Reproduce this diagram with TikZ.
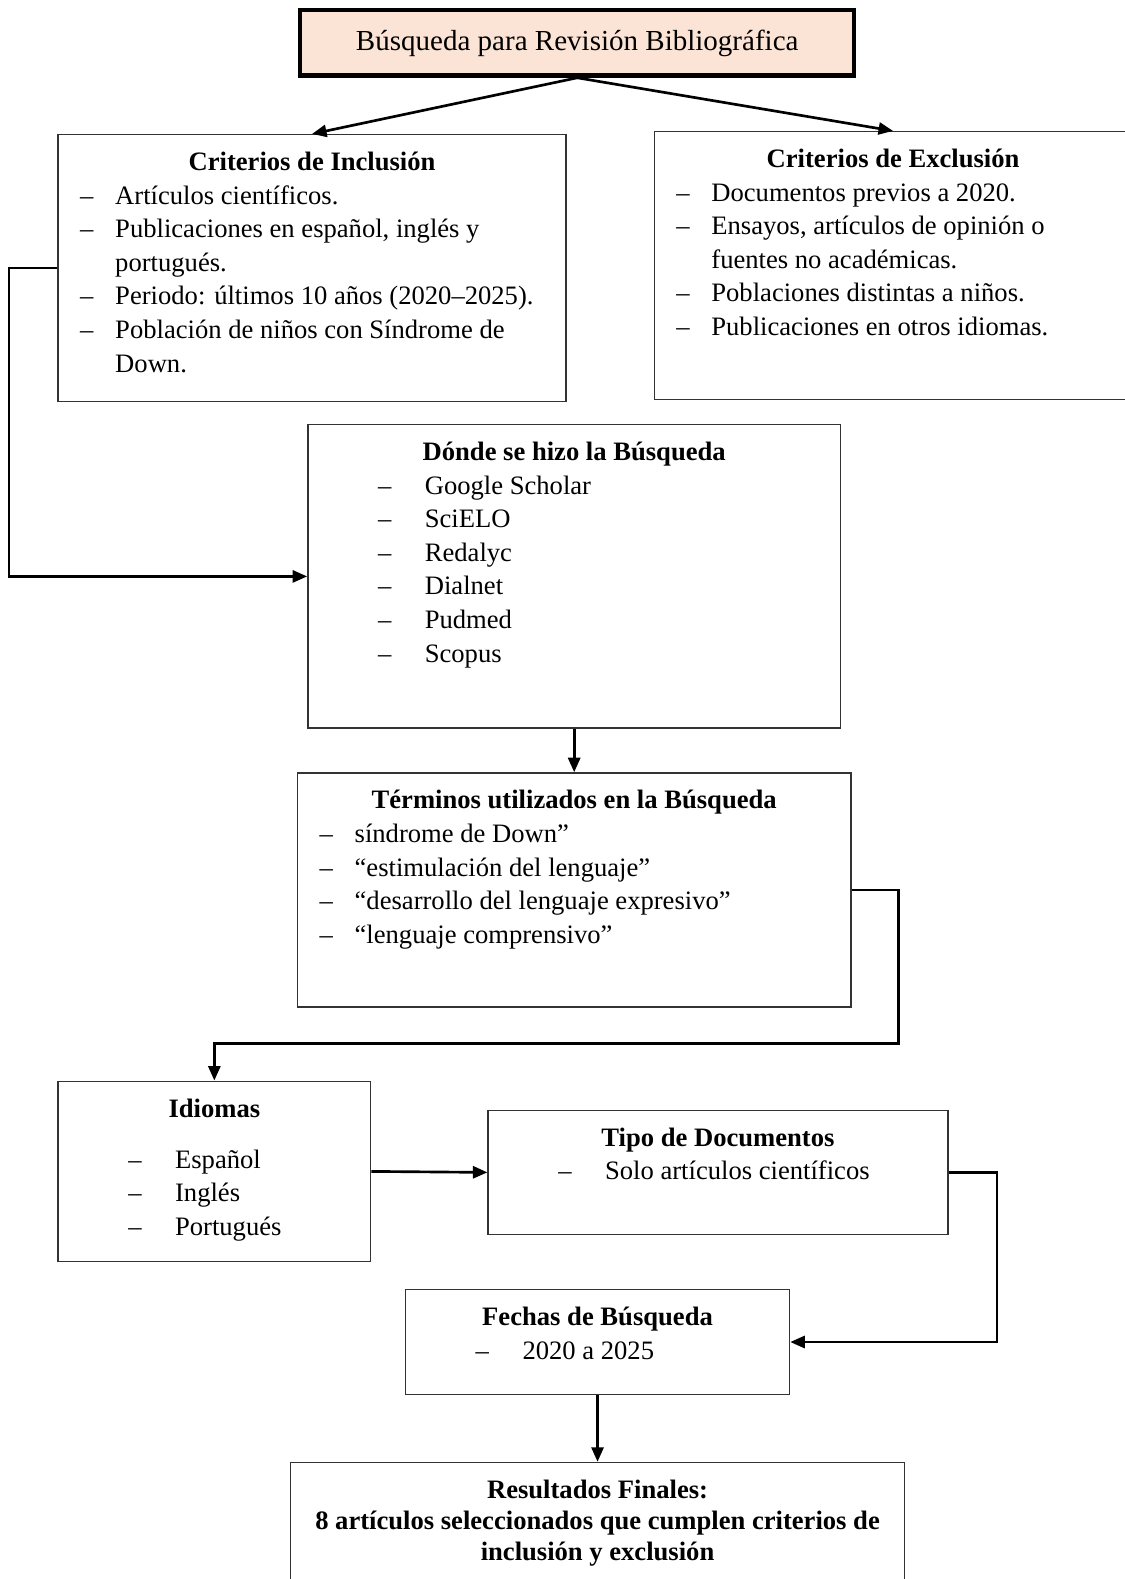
\documentclass[tikz,border=0pt]{standalone}
\usepackage{fontspec}
\setmainfont{Liberation Serif}
\usetikzlibrary{arrows.meta, positioning}
\definecolor{peach}{RGB}{251,228,213}
\newcommand{\boxbody}[3]{\parbox[t][#2][t]{#1}{\setlength{\parskip}{0pt}\raggedright #3}}
\newcommand{\boxhead}[1]{{\centering\bfseries\rule{0pt}{0.52cm}#1\par}}
\newcommand{\itema}[1]{\par\hangindent=0.83cm\hangafter=1\noindent\hspace*{0.32cm}\makebox[0.51cm][l]{--}#1\par}
\newcommand{\itemb}[1]{\par\hangindent=1.70cm\hangafter=1\noindent\hspace*{1.02cm}\makebox[0.68cm][l]{--}#1\par}
\tikzset{
  header/.style={
    rectangle, draw=black, line width=1.8pt, fill=peach,
    minimum width=8.05cm, minimum height=0.95cm,
    font=\fontsize{12}{14}\selectfont
  },
  panel/.style={
    rectangle, draw=black!80, line width=0.6pt,
    inner sep=0pt, anchor=north west,
    font=\fontsize{11}{13.9}\selectfont
  },
  arrow/.style={-{Triangle[length=6pt, width=5pt]}, line width=1.1pt},
}
\begin{document}
\begin{tikzpicture}[x=0.01464cm, y=-0.01464cm]
\useasboundingbox (0,0) rectangle (1117,1568);

% --- Title ---
\node[header, anchor=north west] (title) at (296,8) {Búsqueda para Revisión Bibliográfica};

% --- Criteria ---
\node[panel] (incl) at (57,133) {\boxbody{7.38cm}{3.88cm}{%
  \boxhead{Criterios de Inclusión}
  \itema{Artículos científicos.}
  \itema{Publicaciones en español, inglés y\newline portugués.}
  \itema{Periodo: últimos 10 años (2020–2025).}
  \itema{Población de niños con Síndrome de\newline Down.}}};

\node[panel] (excl) at (649,130) {\boxbody{6.94cm}{3.89cm}{%
  \boxhead{Criterios de Exclusión}
  \itema{Documentos previos a 2020.}
  \itema{Ensayos, artículos de opinión o\newline fuentes no académicas.}
  \itema{Poblaciones distintas a niños.}
  \itema{Publicaciones en otros idiomas.}}};

% --- Search ---
\node[panel] (donde) at (305,421) {\boxbody{7.74cm}{4.41cm}{%
  \boxhead{Dónde se hizo la Búsqueda}
  \itemb{Google Scholar}
  \itemb{SciELO}
  \itemb{Redalyc}
  \itemb{Dialnet}
  \itemb{Pudmed}
  \itemb{Scopus}}};

\node[panel, below=0.63cm of donde] (terminos) {\boxbody{8.04cm}{3.40cm}{%
  \boxhead{Términos utilizados en la Búsqueda}
  \itema{síndrome de Down”}
  \itema{“estimulación del lenguaje”}
  \itema{“desarrollo del lenguaje expresivo”}
  \itema{“lenguaje comprensivo”}}};

% --- Filters ---
\node[panel] (idiomas) at (57,1073) {\boxbody{4.54cm}{2.62cm}{%
  \boxhead{Idiomas}
  \vspace{7.3pt}
  \itemb{Español}
  \itemb{Inglés}
  \itemb{Portugués}}};

\node[panel] (tipo) at (484,1102) {\boxbody{6.68cm}{1.80cm}{%
  \boxhead{Tipo de Documentos}
  \itemb{Solo artículos científicos}}};

\node[panel] (fechas) at (402,1280) {\boxbody{5.58cm}{1.52cm}{%
  \boxhead{Fechas de Búsqueda}
  \itemb{2020 a 2025}}};

% --- Result ---
\node[panel, below=0.97cm of fechas] (result) {\boxbody{8.92cm}{2.20cm}{%
  \fontsize{11}{12.9}\selectfont\centering\bfseries
  \rule{0pt}{0.52cm}Resultados Finales:\\
  8 artículos seleccionados que cumplen criterios de\\
  inclusión y exclusión\par}};

% --- Connectors ---
\draw[arrow] (title.south) -- (incl.north);
\draw[arrow] (title.south) -- (excl.north);
\draw[arrow] (incl.west) -- ++(-48,0) |- (donde.west);
\draw[arrow] (donde.south) -- (terminos.north);
\coordinate (turn) at (892,1036);
\draw[arrow] (terminos.east) -| (turn) -| (idiomas.north);
\draw[arrow] (idiomas.east) -- (tipo.west);
\draw[arrow] (tipo.east) -- ++(48,0) |- (fechas.east);
\draw[arrow] (fechas.south) -- (result.north);

\end{tikzpicture}
\end{document}
